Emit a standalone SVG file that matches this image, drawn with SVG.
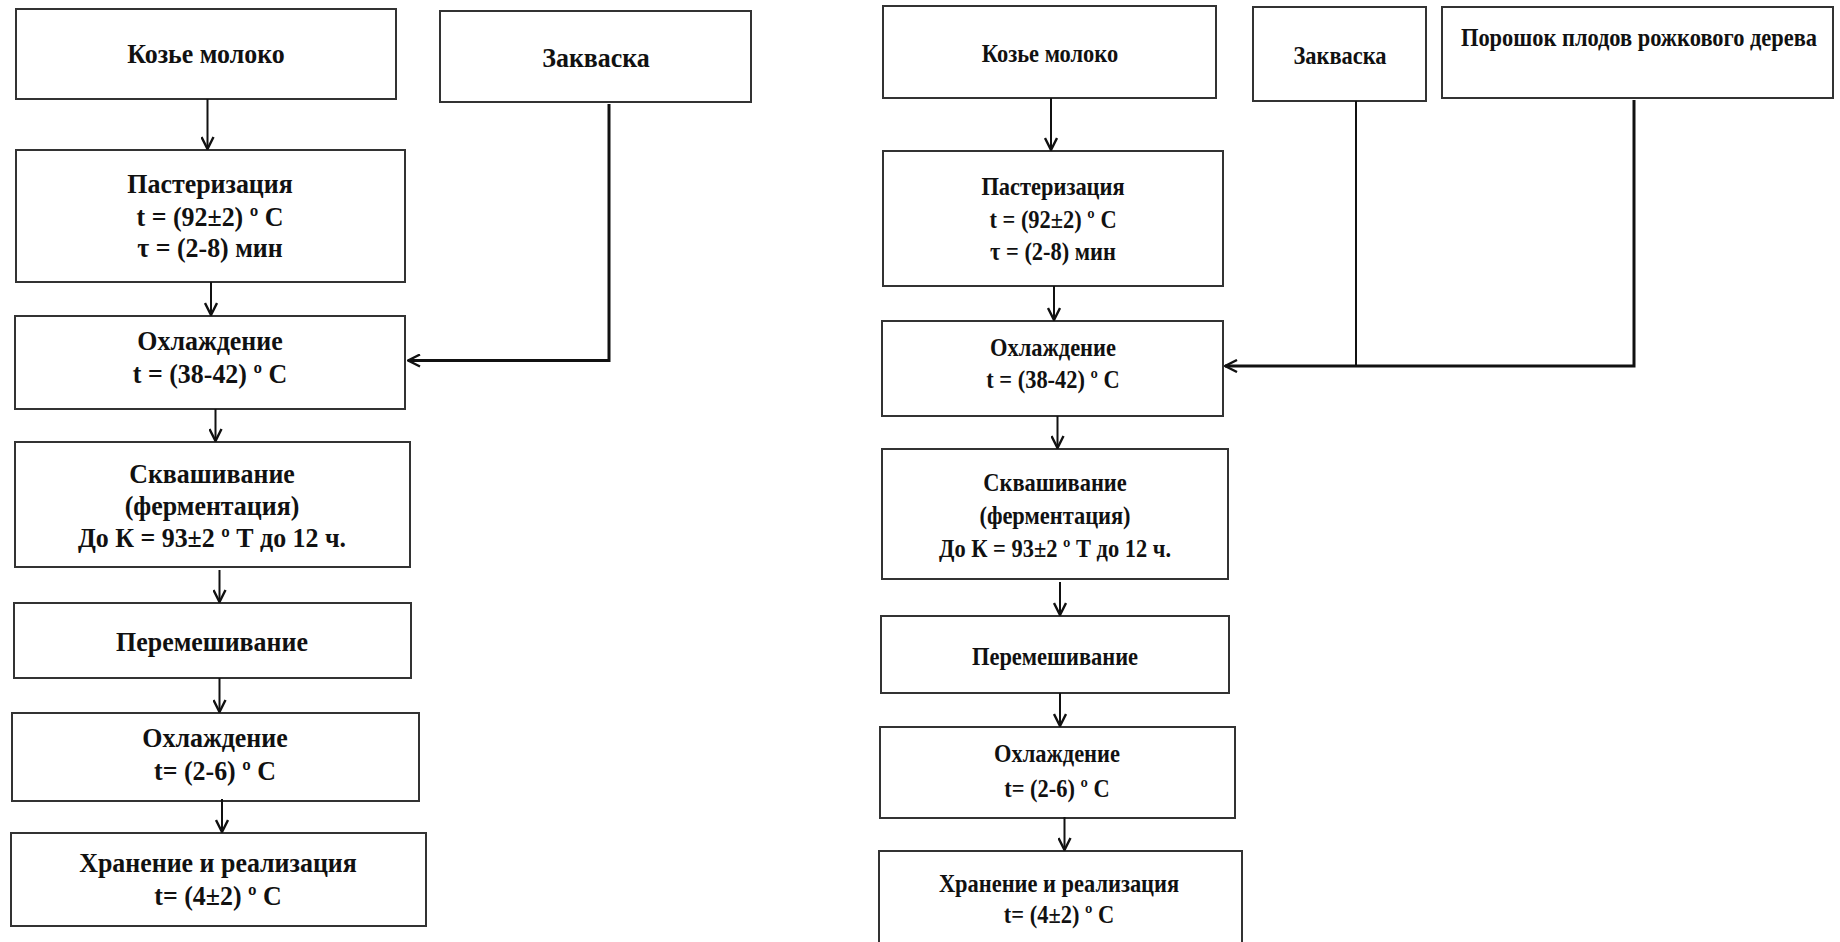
<svg xmlns="http://www.w3.org/2000/svg" width="1840" height="942" viewBox="0 0 1840 942">
<defs>
<style>
.box{fill:#fff;stroke:#333;stroke-width:2}
.t{font-family:"Liberation Serif","Times New Roman",serif;font-weight:bold;font-size:27px;fill:#111;text-anchor:middle}
.r{font-family:"Liberation Serif","Times New Roman",serif;font-weight:bold;font-size:25.5px;fill:#111;text-anchor:middle}
.c{fill:none;stroke:#111;stroke-width:2}
.c3{fill:none;stroke:#111;stroke-width:3}
</style>
<marker id="ah" viewBox="0 0 14 14" refX="13" refY="7" markerWidth="14" markerHeight="14" markerUnits="userSpaceOnUse" orient="auto">
<path d="M1,1 L13,7 L1,13" fill="none" stroke="#111" stroke-width="2.4"/>
</marker>
</defs>
<rect width="1840" height="942" fill="#fff"/>

<g id="L1"><rect class="box" x="16" y="9" width="380" height="90"/><g transform="translate(206 0) scale(0.96 1)"><text class="t" x="0" y="63">Козье молоко</text></g></g>
<g id="L2"><rect class="box" x="440" y="11" width="311" height="91"/><g transform="translate(596 0) scale(0.96 1)"><text class="t" x="0" y="67">Закваска</text></g></g>
<g id="L3"><rect class="box" x="16" y="150" width="389" height="132"/><g transform="translate(210 0) scale(0.96 1)"><text class="t" x="0" y="193">Пастеризация</text><text class="t" x="0" y="226">t = (92±2) º С</text><text class="t" x="0" y="257">τ = (2-8) мин</text></g></g>
<g id="L4"><rect class="box" x="15" y="316" width="390" height="93"/><g transform="translate(210 0) scale(0.96 1)"><text class="t" x="0" y="350">Охлаждение</text><text class="t" x="0" y="383">t = (38-42) º С</text></g></g>
<g id="L5"><rect class="box" x="15" y="442" width="395" height="125"/><g transform="translate(212 0) scale(0.96 1)"><text class="t" x="0" y="483">Сквашивание</text><text class="t" x="0" y="515">(ферментация)</text><text class="t" x="0" y="547">До К = 93±2 º Т до 12 ч.</text></g></g>
<g id="L6"><rect class="box" x="14" y="603" width="397" height="75"/><g transform="translate(212 0) scale(0.96 1)"><text class="t" x="0" y="651">Перемешивание</text></g></g>
<g id="L7"><rect class="box" x="12" y="713" width="407" height="88"/><g transform="translate(215 0) scale(0.96 1)"><text class="t" x="0" y="747">Охлаждение</text><text class="t" x="0" y="780">t= (2-6) º С</text></g></g>
<g id="L8"><rect class="box" x="11" y="833" width="415" height="93"/><g transform="translate(218 0) scale(0.96 1)"><text class="t" x="0" y="872">Хранение и реализация</text><text class="t" x="0" y="905">t= (4±2) º С</text></g></g>

<g id="R1"><rect class="box" x="883" y="6" width="333" height="92"/><g transform="translate(1050 0) scale(0.88 1)"><text class="r" x="0" y="62">Козье молоко</text></g></g>
<g id="R2"><rect class="box" x="1253" y="7" width="173" height="94"/><g transform="translate(1340 0) scale(0.88 1)"><text class="r" x="0" y="64">Закваска</text></g></g>
<g id="R3"><rect class="box" x="1442" y="7" width="391" height="91"/><g transform="translate(1639 0) scale(0.88 1)"><text class="r" x="0" y="46">Порошок плодов рожкового дерева</text></g></g>
<g id="R4"><rect class="box" x="883" y="151" width="340" height="135"/><g transform="translate(1053 0) scale(0.88 1)"><text class="r" x="0" y="195">Пастеризация</text><text class="r" x="0" y="228">t = (92±2) º С</text><text class="r" x="0" y="260">τ = (2-8) мин</text></g></g>
<g id="R5"><rect class="box" x="882" y="321" width="341" height="95"/><g transform="translate(1053 0) scale(0.88 1)"><text class="r" x="0" y="356">Охлаждение</text><text class="r" x="0" y="388">t = (38-42) º С</text></g></g>
<g id="R6"><rect class="box" x="882" y="449" width="346" height="130"/><g transform="translate(1055 0) scale(0.88 1)"><text class="r" x="0" y="491">Сквашивание</text><text class="r" x="0" y="524">(ферментация)</text><text class="r" x="0" y="557">До К = 93±2 º Т до 12 ч.</text></g></g>
<g id="R7"><rect class="box" x="881" y="616" width="348" height="77"/><g transform="translate(1055 0) scale(0.88 1)"><text class="r" x="0" y="665">Перемешивание</text></g></g>
<g id="R8"><rect class="box" x="880" y="727" width="355" height="91"/><g transform="translate(1057 0) scale(0.88 1)"><text class="r" x="0" y="762">Охлаждение</text><text class="r" x="0" y="797">t= (2-6) º С</text></g></g>
<g id="R9"><rect class="box" x="879" y="851" width="363" height="110"/><g transform="translate(1059 0) scale(0.88 1)"><text class="r" x="0" y="892">Хранение и реализация</text><text class="r" x="0" y="923">t= (4±2) º С</text></g></g>

<g id="connectors">
<line class="c" x1="207.5" y1="99" x2="207.5" y2="149" marker-end="url(#ah)"/>
<line class="c" x1="211" y1="282" x2="211" y2="315" marker-end="url(#ah)"/>
<line class="c" x1="215.5" y1="409" x2="215.5" y2="441" marker-end="url(#ah)"/>
<line class="c" x1="219.5" y1="570" x2="219.5" y2="602" marker-end="url(#ah)"/>
<line class="c" x1="219.5" y1="678" x2="219.5" y2="712" marker-end="url(#ah)"/>
<line class="c" x1="222" y1="799" x2="222" y2="832" marker-end="url(#ah)"/>
<polyline class="c3" points="609,104 609,360.5 408,360.5" marker-end="url(#ah)"/>

<line class="c" x1="1051" y1="98" x2="1051" y2="150" marker-end="url(#ah)"/>
<line class="c" x1="1054" y1="286" x2="1054" y2="320" marker-end="url(#ah)"/>
<line class="c" x1="1057.5" y1="416" x2="1057.5" y2="448" marker-end="url(#ah)"/>
<line class="c" x1="1060" y1="582" x2="1060" y2="615" marker-end="url(#ah)"/>
<line class="c" x1="1060" y1="693" x2="1060" y2="726" marker-end="url(#ah)"/>
<line class="c" x1="1064.5" y1="817" x2="1064.5" y2="850" marker-end="url(#ah)"/>
<line class="c" x1="1356" y1="101" x2="1356" y2="366"/>
<polyline class="c3" points="1634,100 1634,366 1225,366" marker-end="url(#ah)"/>
</g>
</svg>
